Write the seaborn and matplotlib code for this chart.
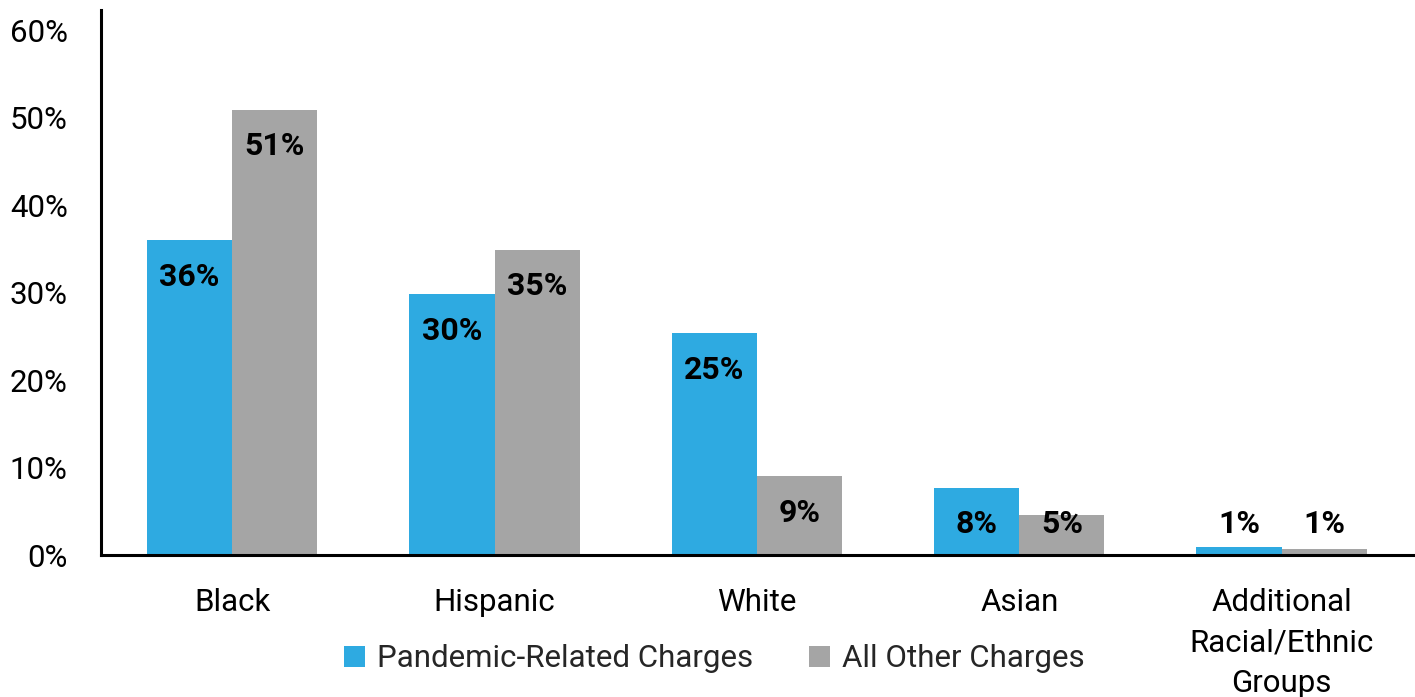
import seaborn as sns
import matplotlib.pyplot as plt
import pandas as pd

# values (percent)
groups = ['Black', 'Hispanic', 'White', 'Asian', 'Additional\nRacial/Ethnic\nGroups']
pandemic = [36.0, 29.8, 25.4, 7.7, 0.9]
other = [50.9, 34.9, 9.0, 4.6, 0.7]
series = ['Pandemic-Related Charges', 'All Other Charges']
colors = ['#2EAAE1', '#A5A5A5']

df = pd.DataFrame({
    'group': groups * 2,
    'value': pandemic + other,
    'series': [series[0]] * len(groups) + [series[1]] * len(groups),
})

sns.set_style('white')
plt.rcParams['font.family'] = ['Roboto', 'DejaVu Sans']

fig = plt.figure(figsize=(14.15, 6.97), dpi=100)
ax = fig.add_axes([0.0714, 0.2037, 0.927, 0.782])

sns.barplot(data=df, x='group', y='value', hue='series', palette=colors,
            width=0.65, gap=0, saturation=1, linewidth=0, ax=ax, legend=True)

# data labels near the inside top of each bar
for cont in ax.containers:
    for bar in cont:
        v = bar.get_height()
        y = v - 4.2
        if y < 3.5:
            y = max(v - 2.6, 3.6)
        ax.text(bar.get_x() + bar.get_width() / 2, y, f'{v:.0f}%',
                ha='center', va='center', fontsize=23, fontweight='bold', color='black')

ax.set_xlim(-0.5, 4.5)
ax.set_ylim(0, 62.3)
ax.set_yticks(range(0, 61, 10))
ax.set_yticklabels([f'{t}%' for t in range(0, 61, 10)])
ax.set_xlabel('')
ax.set_ylabel('')
ax.tick_params(axis='both', length=0, labelsize=22.5, colors='black')
ax.tick_params(axis='x', pad=24)
ax.tick_params(axis='y', pad=24)
for lab in ax.get_xticklabels():
    lab.set_linespacing(1.5)
    lab.set_va('top')

for s in ['top', 'right']:
    ax.spines[s].set_visible(False)
for s in ['left', 'bottom']:
    ax.spines[s].set_color('black')
    ax.spines[s].set_linewidth(2.2)

ax.legend_.remove()
handles, labels = ax.get_legend_handles_labels()
fig.legend(handles, labels, loc='center', bbox_to_anchor=(0.505, 0.055), ncol=2,
           frameon=False, fontsize=22.5, handlelength=0.65, handleheight=0.65,
           handletextpad=0.4, columnspacing=1.8)

fig.savefig('out.png', dpi=100)
